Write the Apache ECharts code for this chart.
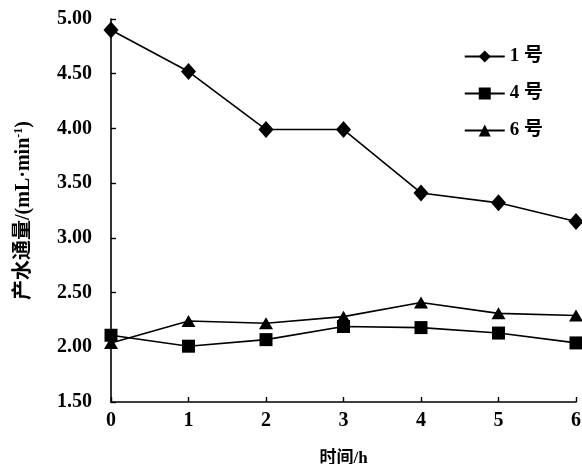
<!DOCTYPE html>
<html><head><meta charset="utf-8">
<script src="https://cdn.jsdelivr.net/npm/echarts@6/dist/echarts.min.js"></script>
<style>html,body{margin:0;padding:0;background:#fff}#c{width:582px;height:464px}</style>
</head><body><div id="c"></div>
<script>
const hours = [0, 1, 2, 3, 4, 5, 6];
const s1 = [4.90, 4.52, 3.99, 3.99, 3.41, 3.32, 3.15];
const s4 = [2.11, 2.01, 2.07, 2.19, 2.18, 2.13, 2.04];
const s6 = [2.04, 2.24, 2.22, 2.28, 2.41, 2.31, 2.29];
const names = ['1 号', '4 号', '6 号'];
const yMin = 1.5, yMax = 5.0, yStep = 0.5;

const font = '"Liberation Serif", "Noto Sans CJK SC", serif';
function pairs(v){ return hours.map((h,i)=>[h, v[i]]); }
const chart = echarts.init(document.getElementById('c'), null, {renderer:'canvas'});
const common = {type:'line', symbolKeepAspect:true, lineStyle:{color:'#000', width:1.6}, itemStyle:{color:'#000'}};
chart.setOption({
  animation:false,
  backgroundColor:'#fff',
  grid:{left:111, right:6, top:19, bottom:62, containLabel:false, outerBoundsMode:'none'},
  legend:{
    orient:'vertical', right:34, top:42, itemWidth:40, itemHeight:15, itemGap:18,
    textStyle:{fontFamily:font, fontWeight:'bold', fontSize:19, color:'#000'},
    data:names
  },
  xAxis:{
    type:'value', min:0, max:6, interval:1,
    name:'时间/h', nameLocation:'middle', nameGap:48,
    nameTextStyle:{fontFamily:font, fontWeight:'bold', fontSize:17, color:'#000'},
    axisLine:{lineStyle:{color:'#000', width:1.6}},
    axisTick:{inside:true, length:5, lineStyle:{color:'#000', width:1.4}},
    axisLabel:{fontFamily:font, fontWeight:'bold', fontSize:20, color:'#000', margin:9},
    splitLine:{show:false}
  },
  yAxis:{
    type:'value', min:yMin, max:yMax, interval:yStep,
    name:'产水通量/(mL·min{sup|-1})', nameLocation:'middle', nameGap:77, nameRotate:90,
    nameTextStyle:{fontFamily:font, fontWeight:'bold', fontSize:20, color:'#000',
      rich:{sup:{fontFamily:font, fontWeight:'bold', fontSize:12, color:'#000', verticalAlign:'top', padding:[0,0,9,0]}}},
    axisLine:{show:true, lineStyle:{color:'#000', width:1.6}},
    axisTick:{inside:true, length:5, lineStyle:{color:'#000', width:1.4}},
    axisLabel:{fontFamily:font, fontWeight:'bold', fontSize:20, color:'#000', margin:19, formatter:v=>v.toFixed(2)},
    splitLine:{show:false}
  },
  series:[
    Object.assign({name:names[0], data:pairs(s1), symbol:'diamond', symbolSize:[15,17]}, common),
    Object.assign({name:names[1], data:pairs(s4), symbol:'rect', symbolSize:13}, common),
    Object.assign({name:names[2], data:pairs(s6), symbol:'triangle', symbolSize:[14,12]}, common)
  ]
});
</script></body></html>
